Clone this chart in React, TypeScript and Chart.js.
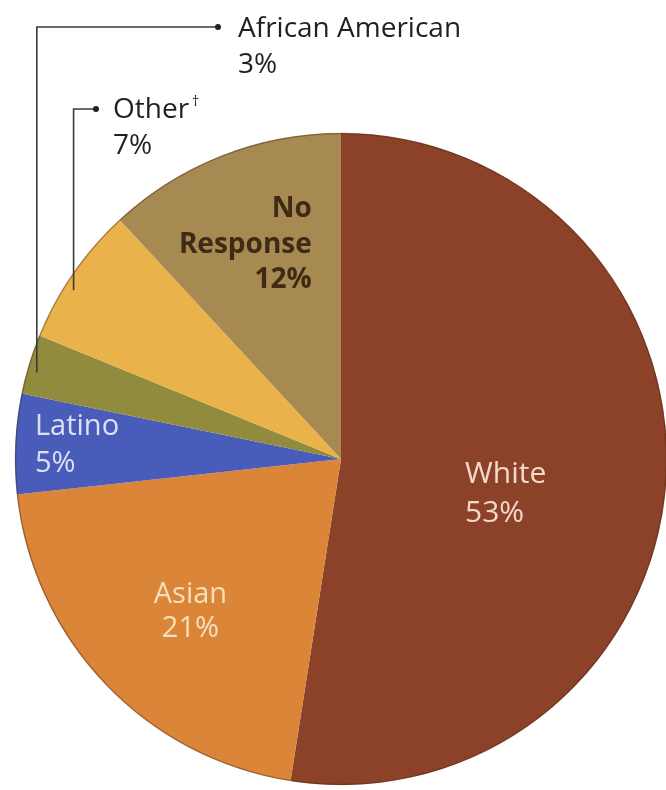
import React, { useEffect, useRef } from "react";
import { Chart, ArcElement, PieController } from "chart.js";

Chart.register(ArcElement, PieController);

const categories = ["White", "Asian", "Latino", "African American", "Other", "No Response"];
const percentValues = [53, 21, 5, 3, 7, 12];
const percentLabels = ["53%", "21%", "5%", "3%", "7%", "12%"];
const sliceColors = ["#8C4228", "#DA8538", "#4A5CBA", "#918B3E", "#E9B24A", "#A68A52"];

// inner label placement: position inside slice (angle fraction, radius fraction)
const innerLabels = [
  { index: 0, lines: ["White", percentLabels[0]], frac: 0.556, rfrac: 0.394, align: "left", color: "#F3D9C8", weight: "normal", size: 30, lh: 39 },
  { index: 1, lines: ["Asian", percentLabels[1]], frac: 0.48, rfrac: 0.655, align: "center", color: "#F6E0BC", weight: "normal", size: 29, lh: 34 },
  { index: 2, lines: ["Latino", percentLabels[2]], frac: 0.51, rfrac: 0.94, align: "left", color: "#DDE1F6", weight: "normal", size: 29, lh: 37 },
  { index: 5, lines: ["No", "Response", percentLabels[5]], frac: 0.82, rfrac: 0.67, align: "right", color: "#3F2A15", weight: "bold", size: 28, lh: 35.5 },
];

// outer labels with leader lines
const outerLabels = [
  { index: 3, text: categories[3], pct: percentLabels[3], sup: "", frac: 0.4, textX: 238, baseY: 37, lineY: 27, dotX: 218 },
  { index: 4, text: categories[4], pct: percentLabels[4], sup: "\u2020", frac: 0.4, textX: 113, baseY: 118, lineY: 109, dotX: 96 },
];

const FONT = '"Open Sans", "Noto Sans", sans-serif';

const labelPlugin = {
  id: "labelPlugin",
  afterDatasetsDraw(chart: any) {
    const ctx: CanvasRenderingContext2D = chart.ctx;
    const arcs: any[] = chart.getDatasetMeta(0).data;
    const polar = (i: number, frac: number, rfrac: number) => {
      const a = arcs[i];
      const ang = a.startAngle + (a.endAngle - a.startAngle) * frac;
      return { x: a.x + Math.cos(ang) * a.outerRadius * rfrac, y: a.y + Math.sin(ang) * a.outerRadius * rfrac };
    };
    ctx.save();
    // subtle outline of pie
    const a0 = arcs[0];
    ctx.beginPath();
    ctx.arc(a0.x, a0.y, a0.outerRadius - 0.5, 0, Math.PI * 2);
    ctx.strokeStyle = "rgba(70,35,20,0.4)";
    ctx.lineWidth = 1.5;
    ctx.stroke();

    ctx.textBaseline = "alphabetic";
    for (const l of innerLabels) {
      const p = polar(l.index, l.frac, l.rfrac);
      ctx.font = `${l.weight} ${l.size}px ${FONT}`;
      ctx.fillStyle = l.color;
      ctx.textAlign = l.align as CanvasTextAlign;
      const n = l.lines.length;
      const first = p.y - ((n - 1) * l.lh) / 2 + 10;
      l.lines.forEach((t, k) => ctx.fillText(t, p.x, first + k * l.lh));
    }

    for (const o of outerLabels) {
      const p = polar(o.index, o.frac, 0.97);
      ctx.strokeStyle = "#3a3a3a";
      ctx.lineWidth = 1.6;
      ctx.beginPath();
      ctx.moveTo(p.x, p.y);
      ctx.lineTo(p.x, o.lineY);
      ctx.lineTo(o.dotX, o.lineY);
      ctx.stroke();
      ctx.fillStyle = "#222";
      ctx.beginPath();
      ctx.arc(o.dotX, o.lineY, 3, 0, Math.PI * 2);
      ctx.fill();
      ctx.textAlign = "left";
      ctx.font = `normal 28px ${FONT}`;
      ctx.fillStyle = "#231F20";
      ctx.fillText(o.text, o.textX, o.baseY);
      if (o.sup) {
        const w = ctx.measureText(o.text).width;
        ctx.font = `normal 14px ${FONT}`;
        ctx.fillText(o.sup, o.textX + w + 3, o.baseY - 12);
        ctx.font = `normal 28px ${FONT}`;
      }
      ctx.fillText(o.pct, o.textX, o.baseY + 36);
    }
    ctx.restore();
  },
};

export default function App() {
  const ref = useRef<HTMLCanvasElement>(null);
  useEffect(() => {
    if (!ref.current) return;
    const chart = new Chart(ref.current, {
      type: "pie",
      data: {
        labels: categories,
        datasets: [
          {
            data: percentValues,
            backgroundColor: sliceColors,
            borderWidth: 0,
            radius: 326,
          },
        ],
      },
      options: {
        responsive: false,
        animation: false,
        layout: { padding: { left: 16, top: 128, right: 0, bottom: 0 } },
        plugins: { legend: { display: false }, tooltip: { enabled: false } },
      },
      plugins: [labelPlugin],
    });
    return () => chart.destroy();
  }, []);
  return (
    <div style={{ position: "absolute", left: 0, top: 0, width: 666, height: 790, background: "#fff" }}>
      <canvas ref={ref} width={666} height={790} />
    </div>
  );
}
